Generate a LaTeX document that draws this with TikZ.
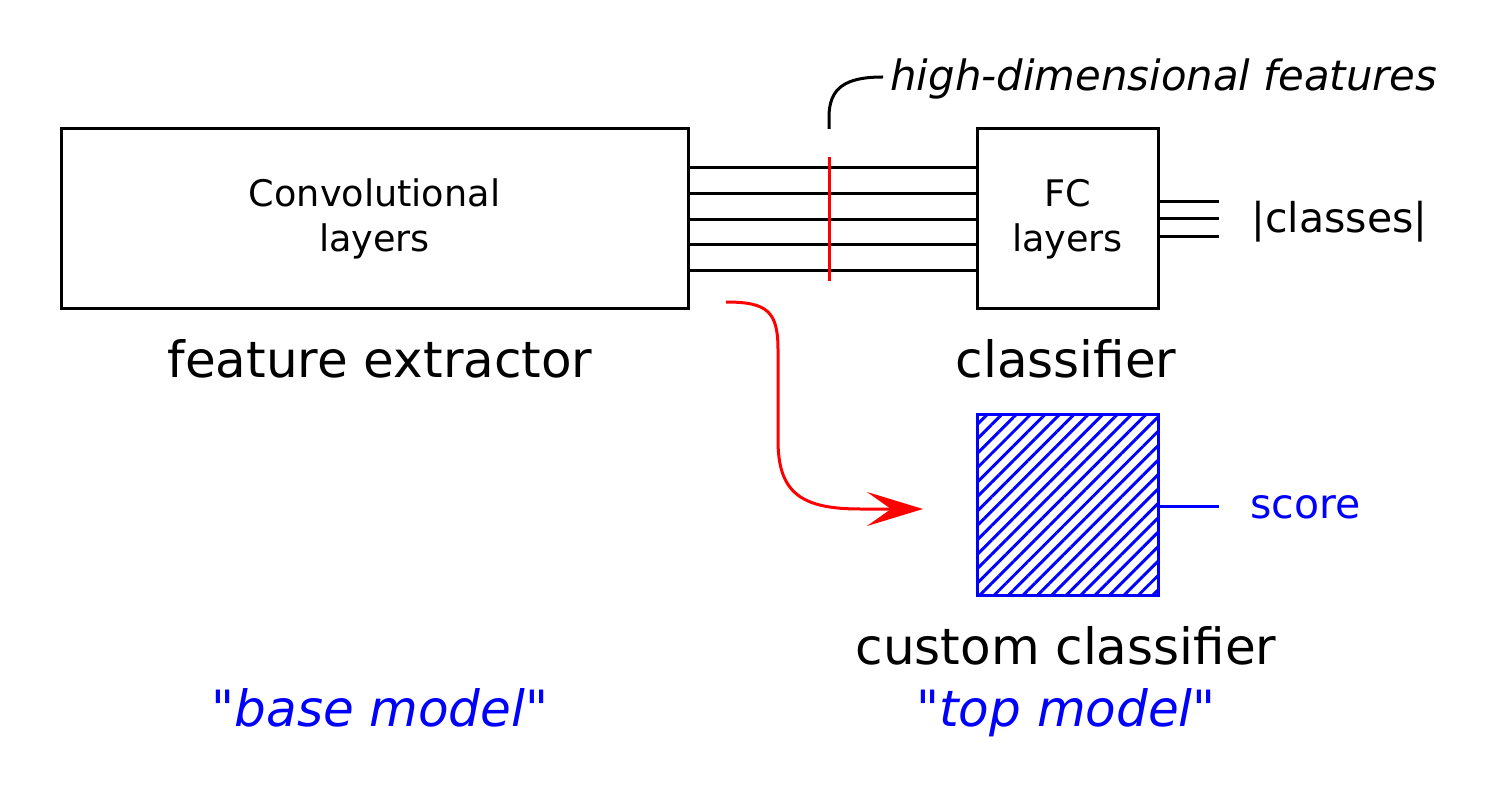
\documentclass[tikz,border=0pt]{standalone}
\usepackage{fontspec}
\setmainfont{DejaVu Sans}[Ligatures=TeXOff]
\usetikzlibrary{arrows.meta,patterns.meta}
\tikzset{
  boxnode/.style={draw=black,line width=1.5pt,inner sep=0pt,align=center,
    font=\fontsize{18.3pt}{22.5pt}\selectfont},
  biglabel/.style={anchor=base,inner sep=0pt,font=\fontsize{25pt}{30pt}\selectfont},
  midlabel/.style={anchor=base west,inner sep=0pt,font=\fontsize{20.5pt}{24pt}\selectfont},
  wire/.style={line width=1.5pt,black},
  redwire/.style={line width=1.5pt,red},
  bluewire/.style={line width=1.5pt,blue},
}
\begin{document}
\begin{tikzpicture}[x=0.5pt,y=-0.5pt]
\useasboundingbox (0,0) rectangle (1493,796);
% boxes
\node[boxnode,minimum width=313.5pt,minimum height=90pt] (conv) at (374.5,219) {Convolutional\\layers};
\node[boxnode,minimum width=90.5pt,minimum height=90pt] (fc) at (1067.5,219) {FC\\layers};
\node[draw=blue,line width=1.5pt,minimum width=90.5pt,minimum height=90pt,inner sep=0pt,
  pattern={Lines[angle=45,distance=5.1pt,line width=1.5pt]},pattern color=blue] (cust) at (1067.5,505) {};
% feature wires
\foreach \i/\y in {1/168,2/194,3/220,4/245,5/271}{
  \coordinate (w\i) at (0,\y);
  \draw[wire] (conv.east |- w\i) -- (fc.west |- w\i);
}
% red cut line
\coordinate (cutT) at (829,157);
\coordinate (cutB) at (829,281);
\draw[redwire] (cutT) -- (cutB);
% leader to label
\node[midlabel,font=\fontsize{20.9pt}{24pt}\selectfont] (hdf) at (890,91) {\itshape high-dimensional features};
\coordinate (leadS) at (829,129);
\coordinate (leadE) at (883,77);
\draw[wire] (leadS) -- (829,117) .. controls (829,88) and (845,77) .. (leadE);
% classes outputs
\foreach \i/\y in {1/202,2/219,3/237}{
  \coordinate (c\i) at (1219,\y);
  \draw[wire] (fc.east |- c\i) -- (c\i);
}
\node[midlabel] (classes) at (1251,233) {|classes|};
% score output
\coordinate (sc) at (1219,506);
\draw[bluewire] (cust.east |- sc) -- (sc);
\node[midlabel,text=blue] (score) at (1250,518) {score};
% labels
\node[biglabel] (fe) at (380,378) {feature extractor};
\node[biglabel] (cl) at (1066,378) {classifier};
\node[biglabel] (cc) at (1066,664) {custom classifier};
\node[biglabel,text=blue] (tm) at (1066,726) {"\textit{top model}"};
\node[biglabel,text=blue] (bm) at (380,726) {"\textit{base model}"};
% red arrow
\coordinate (arrS) at (726,302);
\coordinate (arrE) at (923,509);
\draw[redwire,-{Stealth[length=28pt,width=17pt,inset=12pt]}]
  (arrS) .. controls (768,302) and (778,312) .. (778,350) -- (778,440)
  .. controls (778,492) and (800,509) .. (860,509) -- (arrE);
\end{tikzpicture}
\end{document}
